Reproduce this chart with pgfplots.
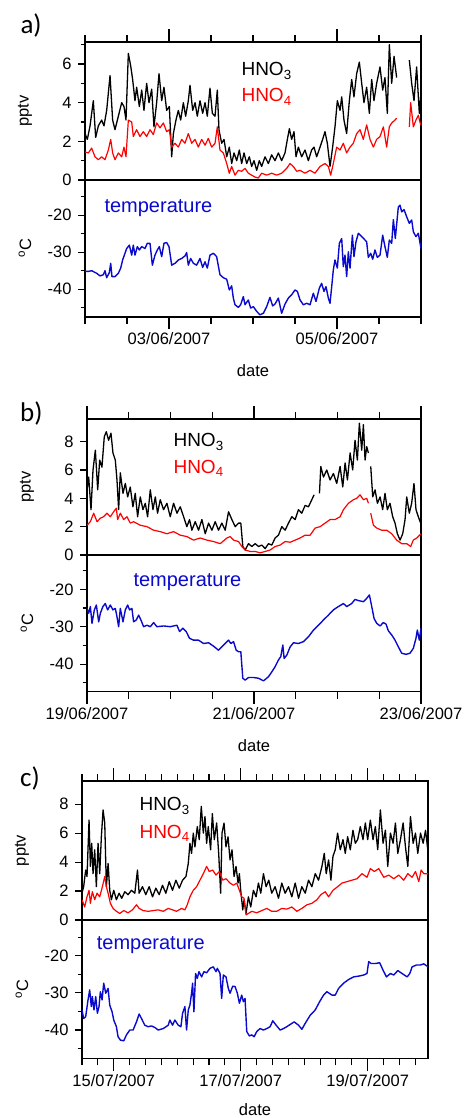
\documentclass[border=0pt]{standalone}
\usepackage{fontspec}
\setmainfont{Liberation Sans}
\newfontfamily\calib{Carlito}
\usepackage{pgfplots}
\pgfplotsset{compat=1.18}

\newcommand{\tk}{\fontsize{16.5}{19}\selectfont}
\newcommand{\leg}{\fontsize{19}{22}\selectfont}
\newcommand{\tmp}{\fontsize{20}{23}\selectfont}
\definecolor{tblue}{RGB}{10,10,205}

\pgfplotsset{
  pan/.style={scale only axis, anchor=south west, tick align=outside,
    axis line style={line width=1.2pt}, tick style={black, line width=1.1pt},
    tick label style={font=\tk}},
  yax/.style={pan, xtick=\empty, ytick pos=left,
    major tick length=7pt, minor tick length=4.5pt,
    unbounded coords=jump, yticklabel style={xshift=-3pt},
    every axis y label/.style={at={(axis description cs:0,0.5)}, xshift=-60pt,
      rotate=90, anchor=center, font=\tk}},
  xax/.style={pan, hide y axis, ymin=0, ymax=1,
    major tick length=12.5pt, minor tick length=7pt,
    every axis x label/.style={at={(axis description cs:0.5,0)}, yshift=-54pt,
      anchor=center, font=\tk}},
  xtop/.style={xax, xtick pos=right, xticklabels={}},
  xbot/.style={xax, xtick pos=left, xlabel={date}},
  hno3/.style={black, line width=1.3pt, line join=round},
  hno4/.style={red, line width=1.2pt, line join=round},
  temp/.style={tblue, line width=1.4pt, line join=round},
}

\begin{document}
\begin{tikzpicture}
\path[use as bounding box] (0,0) rectangle (463pt,1118pt);

% ---------------- panel a ----------------
\begin{axis}[yax, at={(85pt,938pt)}, width=336pt, height=138pt,
  xmin=0, xmax=4, ymin=0, ymax=7.14,
  ytick={0,2,4,6}, yticklabels={0,2,4,6}, minor ytick={1,3,5,7}, ylabel={pptv}]
\addplot[hno3] coordinates {(0,2.4) (0.028,2.1) (0.06,2.8) (0.099,4.1) (0.127,2.2) (0.159,2.8) (0.198,3.1) (0.226,2.8) (0.258,3.6) (0.298,5.4) (0.329,3.1) (0.357,2.6) (0.397,3.3) (0.437,4.0) (0.464,3.8) (0.488,3.1) (0.516,6.55) (0.544,5.9) (0.567,5.2) (0.595,4.1) (0.615,4.8) (0.647,3.8) (0.675,4.65) (0.702,3.6) (0.734,5.0) (0.762,4.0) (0.794,4.7) (0.821,2.75) (0.853,4.0) (0.881,5.5) (0.913,4.1) (0.94,4.8) (0.972,3.6) (1.004,3.8) (1.032,1.2) (1.052,2.4) (1.083,3.1) (1.111,3.6) (1.139,3.1) (1.171,4.0) (1.198,3.3) (1.23,4.1) (1.25,4.9) (1.282,3.6) (1.31,4.0) (1.337,3.3) (1.369,4.1) (1.401,3.45) (1.429,4.0) (1.456,3.3) (1.488,4.75) (1.516,3.45) (1.548,3.3) (1.575,4.65) (1.595,2.6) (1.627,1.9) (1.655,2.1) (1.687,1.2) (1.718,1.7) (1.746,0.85) (1.774,1.4) (1.806,1.0) (1.837,1.55) (1.865,0.85) (1.893,1.4) (1.925,0.85) (1.956,1.2) (1.984,0.7) (2.012,1.0) (2.044,0.5) (2.075,1.0) (2.103,0.7) (2.143,1.2) (2.183,0.85) (2.222,1.3) (2.262,1.0) (2.302,1.4) (2.341,1.0) (2.381,1.4) (2.409,2.1) (2.433,2.65) (2.46,2.1) (2.488,2.5) (2.512,1.2) (2.54,1.7) (2.579,1.2) (2.619,1.55) (2.659,1.0) (2.698,1.55) (2.726,1.7) (2.758,1.2) (2.798,1.7) (2.829,2.1) (2.857,2.5) (2.885,1.9) (2.917,0.7) (2.948,1.7) (2.976,2.75) (3.004,4.1) (3.036,3.6) (3.056,4.3) (3.083,3.1) (3.115,2.4) (3.147,4.1) (3.175,5.2) (3.202,4.3) (3.234,5.5) (3.266,6.1) (3.294,5.0) (3.321,4.0) (3.353,4.8) (3.385,3.45) (3.413,5.2) (3.44,4.1) (3.472,5.0) (3.512,5.85) (3.544,4.65) (3.571,5.3) (3.599,3.45) (3.623,7.0) (3.651,5.0) (3.679,6.4) (3.71,5.3) (3.79,nan) (3.861,6.2) (3.889,5.0) (3.917,4.1) (3.948,5.85) (3.98,3.45) (4.0,4.5)};
\addplot[hno4] coordinates {(0,1.45) (0.04,1.4) (0.079,1.65) (0.119,1.2) (0.159,1.05) (0.198,1.2) (0.238,1.05) (0.278,1.55) (0.306,2.1) (0.329,1.4) (0.357,1.05) (0.397,1.4) (0.437,1.2) (0.464,1.7) (0.488,1.2) (0.516,3.1) (0.556,3.0) (0.575,2.25) (0.615,2.6) (0.655,2.25) (0.694,2.5) (0.734,2.25) (0.774,2.6) (0.813,2.35) (0.853,2.95) (0.893,2.7) (0.933,2.95) (0.972,2.5) (1.004,2.6) (1.032,1.7) (1.071,1.9) (1.111,1.7) (1.151,2.1) (1.19,1.9) (1.23,2.4) (1.27,1.9) (1.31,2.1) (1.349,1.7) (1.389,2.1) (1.429,1.8) (1.468,2.15) (1.508,1.7) (1.548,1.9) (1.575,2.75) (1.607,1.55) (1.647,1.4) (1.687,0.85) (1.718,0.35) (1.746,0.7) (1.786,0.25) (1.825,0.5) (1.865,0.45) (1.905,0.6) (1.944,0.35) (1.984,0.25) (2.024,0.15) (2.063,0.1) (2.103,0.35) (2.163,0.25) (2.222,0.35) (2.282,0.25) (2.341,0.35) (2.401,0.6) (2.44,0.85) (2.48,0.7) (2.52,0.45) (2.56,0.5) (2.619,0.35) (2.679,0.5) (2.738,0.35) (2.798,0.7) (2.857,0.85) (2.897,0.7) (2.925,0.25) (2.956,0.85) (2.996,1.7) (3.036,1.55) (3.075,1.9) (3.115,1.4) (3.155,1.7) (3.194,1.9) (3.234,2.4) (3.274,2.6) (3.313,2.1) (3.353,2.85) (3.393,2.1) (3.433,1.7) (3.472,2.1) (3.512,2.25) (3.552,2.75) (3.591,1.7) (3.623,2.75) (3.651,2.95) (3.69,3.1) (3.71,3.2) (3.79,nan) (3.861,2.75) (3.877,4.0) (3.909,2.75) (3.94,3.1) (3.968,3.35) (3.996,2.85)};
\end{axis}
\begin{axis}[xtop, at={(85pt,938pt)}, width=336pt, height=138pt,
  xmin=0, xmax=4, xtick={1,3}, minor xtick={0,0.5,...,4}]
\end{axis}
\begin{axis}[yax, at={(85pt,801pt)}, width=336pt, height=137pt,
  xmin=0, xmax=4, ymin=-47.5, ymax=-10.5,
  ytick={-40,-30,-20}, yticklabels={-40,-30,-20}, minor ytick={-45,-35,-25,-15},
  ylabel={\textsuperscript{o}C}]
\addplot[temp] coordinates {(0,-35.2) (0.04,-35.2) (0.079,-35.0) (0.139,-35.7) (0.179,-36.4) (0.218,-36.1) (0.238,-35.0) (0.258,-36.9) (0.29,-35.5) (0.306,-33.0) (0.321,-36.6) (0.357,-36.6) (0.397,-35.7) (0.425,-34.3) (0.448,-32.1) (0.476,-30.3) (0.496,-29.0) (0.528,-28.1) (0.556,-30.8) (0.575,-28.1) (0.595,-30.8) (0.623,-28.5) (0.647,-29.4) (0.675,-28.5) (0.714,-29.0) (0.742,-27.6) (0.774,-27.6) (0.802,-33.5) (0.833,-30.8) (0.861,-29.4) (0.885,-28.5) (0.913,-31.2) (0.94,-27.6) (0.972,-27.4) (1.0,-28.5) (1.032,-33.5) (1.071,-33.0) (1.111,-32.1) (1.151,-31.7) (1.19,-31.0) (1.21,-30.1) (1.23,-33.5) (1.258,-31.7) (1.29,-33.0) (1.329,-33.5) (1.369,-31.7) (1.401,-34.1) (1.429,-32.6) (1.456,-34.3) (1.488,-30.8) (1.528,-30.3) (1.567,-31.2) (1.607,-36.1) (1.647,-36.9) (1.687,-37.3) (1.718,-40.2) (1.746,-39.1) (1.766,-42.4) (1.786,-44.2) (1.825,-44.9) (1.853,-44.2) (1.885,-42.0) (1.905,-44.2) (1.944,-42.9) (1.972,-45.1) (2.004,-44.7) (2.044,-46.0) (2.083,-46.9) (2.123,-46.5) (2.163,-44.7) (2.202,-42.2) (2.234,-44.5) (2.262,-44.0) (2.302,-42.4) (2.341,-46.5) (2.381,-44.0) (2.421,-42.4) (2.46,-41.5) (2.5,-40.2) (2.528,-40.6) (2.56,-42.9) (2.599,-44.2) (2.639,-43.8) (2.679,-44.2) (2.718,-41.1) (2.75,-43.3) (2.79,-39.7) (2.817,-38.4) (2.845,-40.6) (2.869,-39.3) (2.897,-42.4) (2.917,-43.8) (2.937,-39.3) (2.956,-34.8) (2.976,-32.1) (3.004,-34.3) (3.028,-27.6) (3.056,-26.3) (3.075,-33.9) (3.095,-30.8) (3.115,-36.6) (3.135,-29.9) (3.155,-34.3) (3.183,-25.4) (3.202,-31.2) (3.226,-27.2) (3.254,-24.9) (3.294,-25.8) (3.333,-26.7) (3.353,-27.2) (3.373,-31.4) (3.401,-30.3) (3.425,-31.9) (3.452,-29.4) (3.48,-31.4) (3.512,-30.8) (3.544,-25.4) (3.571,-28.5) (3.599,-31.4) (3.623,-26.7) (3.651,-27.6) (3.671,-21.2) (3.694,-26.3) (3.73,-17.8) (3.75,-17.3) (3.77,-19.1) (3.798,-18.5) (3.829,-20.4) (3.861,-22.2) (3.889,-21.3) (3.909,-24.5) (3.94,-25.8) (3.968,-24.9) (4.0,-29.0)};
\end{axis}
\begin{axis}[xbot, at={(85pt,801pt)}, width=336pt, height=137pt,
  xmin=0, xmax=4, xtick={1,3}, xticklabels={03/06/2007,05/06/2007},
  minor xtick={0,0.5,...,4}]
\end{axis}
\node[anchor=base west, font=\calib\fontsize{27}{30}\selectfont] at (17pt,1084.7pt) {a)};
\node[anchor=base west, font=\leg] at (238pt,1042pt) {HNO\textsubscript{3}};
\node[anchor=base west, font=\leg, text=red] at (238pt,1016pt) {HNO\textsubscript{4}};
\node[anchor=base west, font=\tmp, text=tblue] at (101pt,905.3pt) {temperature};

% ---------------- panel b ----------------
\begin{axis}[yax, at={(87pt,563pt)}, width=334pt, height=136pt,
  xmin=0, xmax=4, ymin=0, ymax=9.6,
  ytick={0,2,4,6,8}, yticklabels={0,2,4,6,8}, ylabel={pptv}]
\addplot[hno3] coordinates {(0,4.6) (0.02,5.5) (0.048,3.2) (0.072,6.0) (0.1,7.4) (0.128,4.6) (0.152,6.7) (0.179,6.2) (0.207,8.35) (0.231,8.7) (0.259,8.1) (0.287,8.6) (0.311,7.2) (0.339,6.7) (0.359,5.3) (0.379,3.2) (0.399,5.8) (0.431,4.35) (0.459,5.05) (0.487,4.1) (0.518,4.8) (0.55,3.4) (0.578,4.35) (0.606,2.7) (0.638,4.1) (0.67,3.2) (0.698,3.65) (0.726,2.7) (0.758,4.6) (0.79,3.2) (0.818,4.1) (0.845,2.95) (0.877,3.9) (0.917,3.2) (0.957,3.65) (0.997,2.7) (1.037,3.65) (1.077,2.95) (1.117,3.4) (1.157,2.7) (1.196,2.0) (1.228,2.5) (1.256,1.75) (1.296,2.35) (1.336,1.75) (1.376,2.5) (1.416,1.5) (1.456,2.25) (1.496,1.75) (1.535,2.35) (1.575,1.75) (1.615,2.25) (1.655,1.75) (1.695,3.05) (1.735,2.5) (1.775,2.0) (1.815,2.25) (1.842,2.25) (1.866,0.6) (1.894,0.35) (1.934,0.8) (1.974,0.6) (2.014,0.8) (2.054,0.6) (2.094,0.7) (2.134,0.45) (2.173,0.8) (2.213,0.7) (2.253,1.2) (2.293,1.4) (2.333,2.0) (2.373,1.75) (2.413,2.25) (2.453,2.7) (2.493,2.5) (2.532,3.2) (2.572,2.95) (2.612,3.5) (2.652,3.4) (2.692,3.9) (2.72,4.25) (2.75,nan) (2.784,4.35) (2.8,6.25) (2.832,5.5) (2.871,6.0) (2.911,5.3) (2.951,5.75) (2.991,5.05) (3.031,6.25) (3.063,4.8) (3.091,6.5) (3.119,5.3) (3.151,7.2) (3.182,6.0) (3.21,8.1) (3.238,6.7) (3.262,9.3) (3.29,7.4) (3.31,9.2) (3.33,6.7) (3.35,7.65) (3.37,7.2) (3.385,nan) (3.398,6.25) (3.422,4.1) (3.45,4.6) (3.478,3.65) (3.51,4.1) (3.541,3.2) (3.569,4.35) (3.597,3.2) (3.629,3.65) (3.661,2.7) (3.689,2.25) (3.717,1.5) (3.749,1.05) (3.781,1.5) (3.809,2.5) (3.829,4.1) (3.86,2.95) (3.888,3.65) (3.916,5.05) (3.94,3.2) (3.968,2.7) (3.996,2.25)};
\addplot[hno4] coordinates {(0,2.1) (0.04,2.35) (0.08,2.95) (0.12,2.35) (0.16,2.6) (0.199,2.7) (0.239,2.95) (0.279,2.7) (0.319,3.05) (0.351,3.3) (0.367,2.5) (0.399,2.95) (0.439,2.5) (0.479,2.7) (0.518,2.25) (0.558,2.35) (0.638,2.1) (0.718,2.0) (0.798,1.75) (0.877,1.65) (0.957,1.5) (1.037,1.65) (1.117,1.4) (1.196,1.3) (1.276,1.05) (1.356,1.2) (1.436,1.05) (1.515,0.95) (1.595,0.8) (1.675,1.2) (1.715,1.3) (1.755,1.05) (1.815,0.95) (1.854,0.6) (1.894,0.35) (1.954,0.25) (2.014,0.25) (2.074,0.15) (2.134,0.25) (2.193,0.35) (2.253,0.6) (2.313,0.7) (2.373,0.95) (2.433,0.9) (2.493,1.05) (2.552,1.2) (2.612,1.4) (2.672,1.4) (2.732,1.9) (2.792,2.0) (2.851,2.25) (2.911,2.5) (2.971,2.5) (3.031,2.7) (3.071,3.2) (3.131,3.65) (3.19,3.9) (3.23,4.0) (3.27,4.25) (3.31,3.9) (3.35,4.0) (3.37,3.65) (3.385,nan) (3.398,2.95) (3.43,2.1) (3.47,1.9) (3.529,1.75) (3.589,1.75) (3.649,1.5) (3.709,1.05) (3.769,0.8) (3.829,0.8) (3.876,0.6) (3.908,1.05) (3.948,1.2) (4.0,1.5)};
\end{axis}
\begin{axis}[xtop, at={(87pt,563pt)}, width=334pt, height=136pt,
  xmin=0, xmax=4, xtick={0,2,4}, minor xtick={0,0.5,...,4}]
\end{axis}
\begin{axis}[yax, at={(87pt,426.3pt)}, width=334pt, height=136.7pt,
  xmin=0, xmax=4, ymin=-47.4, ymax=-10.8,
  ytick={-40,-30,-20}, yticklabels={-40,-30,-20}, minor ytick={-45,-35,-25,-15},
  ylabel={\textsuperscript{o}C}]
\addplot[temp] coordinates {(0,-25.1) (0.02,-26.4) (0.04,-24.6) (0.06,-29.1) (0.088,-25.5) (0.112,-24.2) (0.14,-28.7) (0.16,-26.4) (0.191,-24.6) (0.219,-23.8) (0.247,-25.5) (0.279,-24.2) (0.311,-25.5) (0.339,-25.1) (0.359,-27.3) (0.379,-30.0) (0.399,-25.1) (0.431,-28.7) (0.459,-25.5) (0.487,-24.2) (0.51,-25.5) (0.538,-25.1) (0.558,-28.7) (0.59,-28.2) (0.618,-26.9) (0.646,-28.2) (0.678,-30.0) (0.718,-29.6) (0.758,-30.0) (0.798,-28.9) (0.837,-30.0) (0.917,-29.8) (0.997,-30.0) (1.077,-29.6) (1.109,-31.3) (1.149,-30.4) (1.188,-31.3) (1.228,-33.1) (1.276,-33.6) (1.336,-33.6) (1.396,-34.5) (1.456,-34.3) (1.515,-35.2) (1.575,-36.3) (1.615,-35.4) (1.655,-34.5) (1.695,-33.6) (1.723,-34.5) (1.755,-34.0) (1.787,-36.3) (1.815,-36.7) (1.842,-36.7) (1.866,-43.8) (1.894,-44.3) (1.934,-43.6) (1.994,-43.6) (2.054,-43.8) (2.114,-44.5) (2.173,-43.4) (2.213,-42.1) (2.253,-40.7) (2.293,-38.9) (2.321,-38.0) (2.345,-34.9) (2.361,-38.5) (2.393,-37.6) (2.433,-35.4) (2.473,-34.3) (2.532,-34.5) (2.592,-34.0) (2.652,-32.7) (2.712,-30.9) (2.772,-29.6) (2.832,-28.2) (2.891,-26.9) (2.951,-25.5) (3.011,-24.6) (3.071,-23.8) (3.111,-24.6) (3.17,-23.8) (3.21,-22.7) (3.25,-23.0) (3.31,-23.3) (3.35,-22.4) (3.382,-21.5) (3.41,-24.6) (3.438,-27.8) (3.47,-29.1) (3.51,-29.8) (3.549,-28.9) (3.581,-29.3) (3.609,-31.1) (3.649,-32.2) (3.689,-33.6) (3.729,-35.4) (3.769,-37.1) (3.821,-37.4) (3.868,-37.1) (3.908,-35.8) (3.94,-33.1) (3.956,-30.9) (3.98,-33.6) (4.0,-30.4)};
\end{axis}
\begin{axis}[xbot, at={(87pt,426.3pt)}, width=334pt, height=136.7pt,
  xmin=0, xmax=4, xtick={0,2,4}, xticklabels={19/06/2007,21/06/2007,23/06/2007},
  minor xtick={0,0.5,...,4}]
\end{axis}
\node[anchor=base west, font=\calib\fontsize{27}{30}\selectfont] at (16.7pt,696.3pt) {b)};
\node[anchor=base west, font=\leg] at (170pt,671.3pt) {HNO\textsubscript{3}};
\node[anchor=base west, font=\leg, text=red] at (170pt,644.7pt) {HNO\textsubscript{4}};
\node[anchor=base west, font=\tmp, text=tblue] at (130pt,531.3pt) {temperature};

% ---------------- panel c ----------------
\begin{axis}[yax, at={(82pt,198pt)}, width=346pt, height=139pt,
  xmin=-0.5, xmax=4.95, ymin=0, ymax=9.6,
  ytick={0,2,4,6,8}, yticklabels={0,2,4,6,8}, ylabel={pptv}]
\addplot[hno3] coordinates {(-0.5,1.85) (-0.474,2.3) (-0.442,3.45) (-0.421,3.0) (-0.389,6.9) (-0.368,3.7) (-0.347,5.3) (-0.326,3.2) (-0.3,4.85) (-0.274,2.3) (-0.247,5.3) (-0.221,3.2) (-0.195,5.75) (-0.168,7.6) (-0.142,6.7) (-0.116,2.3) (-0.089,3.9) (-0.063,2.05) (-0.037,1.4) (0,2.05) (0.042,1.4) (0.084,1.85) (0.126,1.5) (0.174,1.95) (0.226,1.75) (0.279,2.05) (0.332,1.85) (0.374,3.45) (0.4,1.85) (0.453,2.3) (0.505,1.75) (0.558,2.3) (0.611,1.6) (0.663,2.2) (0.716,1.75) (0.768,2.4) (0.821,1.85) (0.874,2.65) (0.926,2.05) (0.979,2.75) (1.032,2.2) (1.084,2.75) (1.137,3.0) (1.174,3.9) (1.2,5.3) (1.226,4.6) (1.253,6.0) (1.279,5.05) (1.316,6.45) (1.347,5.55) (1.379,7.85) (1.411,6.0) (1.437,7.15) (1.463,5.3) (1.489,6.45) (1.526,4.85) (1.553,7.35) (1.584,5.55) (1.621,6.7) (1.653,4.6) (1.684,1.85) (1.705,6.0) (1.737,6.7) (1.768,5.05) (1.8,5.75) (1.832,4.15) (1.863,4.85) (1.895,3.0) (1.926,3.7) (1.958,2.55) (1.979,3.2) (2.0,2.05) (2.032,0.7) (2.053,1.4) (2.084,0.45) (2.121,1.6) (2.158,0.9) (2.2,2.05) (2.242,1.6) (2.279,2.55) (2.316,1.85) (2.358,3.2) (2.4,2.3) (2.442,2.75) (2.489,1.85) (2.542,2.3) (2.595,1.5) (2.647,2.55) (2.7,1.85) (2.753,2.3) (2.805,1.6) (2.858,2.55) (2.911,1.5) (2.963,2.3) (3.016,1.85) (3.068,2.75) (3.121,2.3) (3.174,3.2) (3.226,2.75) (3.279,3.7) (3.316,4.6) (3.347,3.2) (3.384,4.15) (3.421,2.75) (3.453,4.4) (3.489,4.85) (3.526,6.0) (3.568,4.85) (3.611,5.55) (3.647,4.6) (3.684,5.75) (3.726,4.85) (3.768,6.2) (3.805,5.3) (3.842,5.55) (3.884,6.45) (3.926,5.55) (3.963,6.7) (4.0,5.55) (4.042,6.9) (4.084,5.55) (4.121,6.45) (4.158,4.85) (4.2,7.6) (4.242,5.3) (4.279,6.2) (4.316,3.7) (4.358,6.0) (4.4,5.3) (4.437,6.7) (4.474,4.6) (4.516,5.55) (4.558,6.7) (4.595,5.05) (4.632,3.7) (4.674,7.15) (4.716,5.3) (4.753,6.0) (4.789,4.6) (4.832,6.0) (4.874,5.3) (4.911,6.2) (4.953,4.6)};
\addplot[hno4] coordinates {(-0.5,1.4) (-0.458,0.9) (-0.421,1.6) (-0.389,2.05) (-0.368,1.15) (-0.337,1.95) (-0.3,1.4) (-0.263,1.85) (-0.221,1.6) (-0.179,2.3) (-0.142,3.0) (-0.116,2.3) (-0.089,1.85) (-0.053,1.15) (-0.011,0.8) (0.042,0.6) (0.095,0.45) (0.158,0.65) (0.226,0.5) (0.295,0.7) (0.358,1.05) (0.4,0.8) (0.463,0.65) (0.542,0.6) (0.621,0.65) (0.7,0.7) (0.779,0.6) (0.858,0.8) (0.926,0.7) (0.989,0.6) (1.068,0.8) (1.121,0.7) (1.158,1.05) (1.2,1.6) (1.253,2.05) (1.305,2.3) (1.358,2.75) (1.411,3.2) (1.463,3.7) (1.505,3.35) (1.558,3.45) (1.611,3.1) (1.663,3.35) (1.716,2.75) (1.768,2.85) (1.832,2.55) (1.884,2.4) (1.937,2.55) (1.979,2.05) (2.016,1.6) (2.053,1.5) (2.084,0.35) (2.121,0.45) (2.174,0.6) (2.253,0.5) (2.332,0.65) (2.411,0.8) (2.489,0.6) (2.568,0.6) (2.647,0.8) (2.726,0.75) (2.805,0.9) (2.884,0.6) (2.963,0.8) (3.042,1.05) (3.121,1.15) (3.2,1.4) (3.263,1.75) (3.332,1.95) (3.384,1.6) (3.453,2.05) (3.526,2.3) (3.595,2.55) (3.674,2.65) (3.753,2.75) (3.832,2.85) (3.911,3.2) (3.989,2.95) (4.042,3.55) (4.105,3.35) (4.174,3.55) (4.253,2.95) (4.332,3.1) (4.411,2.85) (4.489,3.1) (4.568,2.75) (4.632,3.2) (4.7,2.95) (4.753,3.35) (4.805,2.65) (4.842,3.45) (4.884,3.2) (4.953,3.2)};
\end{axis}
\begin{axis}[xtop, at={(82pt,198pt)}, width=346pt, height=139pt,
  xmin=-0.5, xmax=4.95, xtick={0,2,4}, minor xtick={-0.5,-0.25,...,4.8}]
\end{axis}
\begin{axis}[yax, at={(82pt,59.7pt)}, width=346pt, height=138.3pt,
  xmin=-0.5, xmax=4.95, ymin=-47.6, ymax=-10.4,
  ytick={-40,-30,-20}, yticklabels={-40,-30,-20}, minor ytick={-45,-35,-25,-15},
  ylabel={\textsuperscript{o}C}]
\addplot[temp] coordinates {(-0.5,-34.6) (-0.474,-36.9) (-0.442,-36.4) (-0.405,-31.9) (-0.379,-29.2) (-0.353,-33.7) (-0.337,-31.0) (-0.311,-34.6) (-0.284,-31.0) (-0.258,-35.5) (-0.232,-33.7) (-0.211,-29.7) (-0.184,-31.9) (-0.158,-27.4) (-0.126,-30.1) (-0.089,-28.8) (-0.063,-33.3) (-0.026,-35.1) (0,-37.3) (0.042,-39.1) (0.068,-41.8) (0.105,-42.7) (0.158,-42.9) (0.2,-41.3) (0.253,-40.0) (0.305,-40.0) (0.358,-37.8) (0.4,-35.7) (0.437,-36.9) (0.489,-38.7) (0.542,-39.1) (0.595,-38.9) (0.647,-39.3) (0.7,-40.0) (0.779,-39.6) (0.858,-38.7) (0.884,-37.3) (0.926,-38.7) (0.963,-37.3) (1.016,-38.7) (1.058,-39.1) (1.084,-35.5) (1.121,-33.7) (1.147,-40.0) (1.174,-34.6) (1.2,-33.3) (1.226,-30.1) (1.242,-27.4) (1.263,-35.1) (1.289,-24.8) (1.316,-26.1) (1.342,-24.3) (1.384,-25.7) (1.421,-24.3) (1.463,-24.6) (1.516,-23.4) (1.568,-23.0) (1.611,-24.3) (1.632,-23.4) (1.674,-24.8) (1.7,-31.5) (1.726,-25.2) (1.768,-25.7) (1.805,-28.8) (1.832,-30.1) (1.874,-28.2) (1.911,-28.3) (1.947,-30.1) (1.979,-32.8) (2.016,-30.6) (2.042,-32.4) (2.068,-31.5) (2.095,-40.4) (2.137,-41.6) (2.174,-41.3) (2.211,-41.8) (2.253,-40.4) (2.305,-39.6) (2.358,-40.0) (2.411,-39.6) (2.463,-39.1) (2.505,-37.5) (2.558,-38.7) (2.621,-40.0) (2.674,-39.6) (2.726,-39.1) (2.779,-38.5) (2.842,-37.8) (2.911,-38.7) (2.963,-39.8) (3.016,-38.2) (3.095,-36.0) (3.174,-34.6) (3.242,-32.4) (3.305,-30.6) (3.358,-29.7) (3.437,-30.6) (3.489,-30.6) (3.542,-28.8) (3.621,-27.4) (3.7,-26.4) (3.779,-25.7) (3.858,-25.5) (3.937,-25.2) (3.989,-24.8) (4.016,-21.6) (4.053,-22.1) (4.121,-22.1) (4.189,-21.9) (4.242,-23.9) (4.295,-25.7) (4.358,-24.8) (4.411,-25.2) (4.474,-24.0) (4.542,-24.8) (4.621,-25.7) (4.663,-24.8) (4.7,-23.0) (4.768,-22.5) (4.832,-22.5) (4.884,-22.2) (4.953,-23.0)};
\end{axis}
\begin{axis}[xbot, at={(82pt,59.7pt)}, width=346pt, height=138.3pt,
  xmin=-0.5, xmax=4.95, xtick={0,2,4}, xticklabels={15/07/2007,17/07/2007,19/07/2007},
  minor xtick={-0.5,-0.25,...,4.8}, xlabel style={yshift=3pt}]
\end{axis}
\node[anchor=base west, font=\calib\fontsize{27}{30}\selectfont] at (16.7pt,331.3pt) {c)};
\node[anchor=base west, font=\leg] at (136pt,307.3pt) {HNO\textsubscript{3}};
\node[anchor=base west, font=\leg, text=red] at (136pt,279.7pt) {HNO\textsubscript{4}};
\node[anchor=base west, font=\tmp, text=tblue] at (93.3pt,168pt) {temperature};
\end{tikzpicture}
\end{document}
